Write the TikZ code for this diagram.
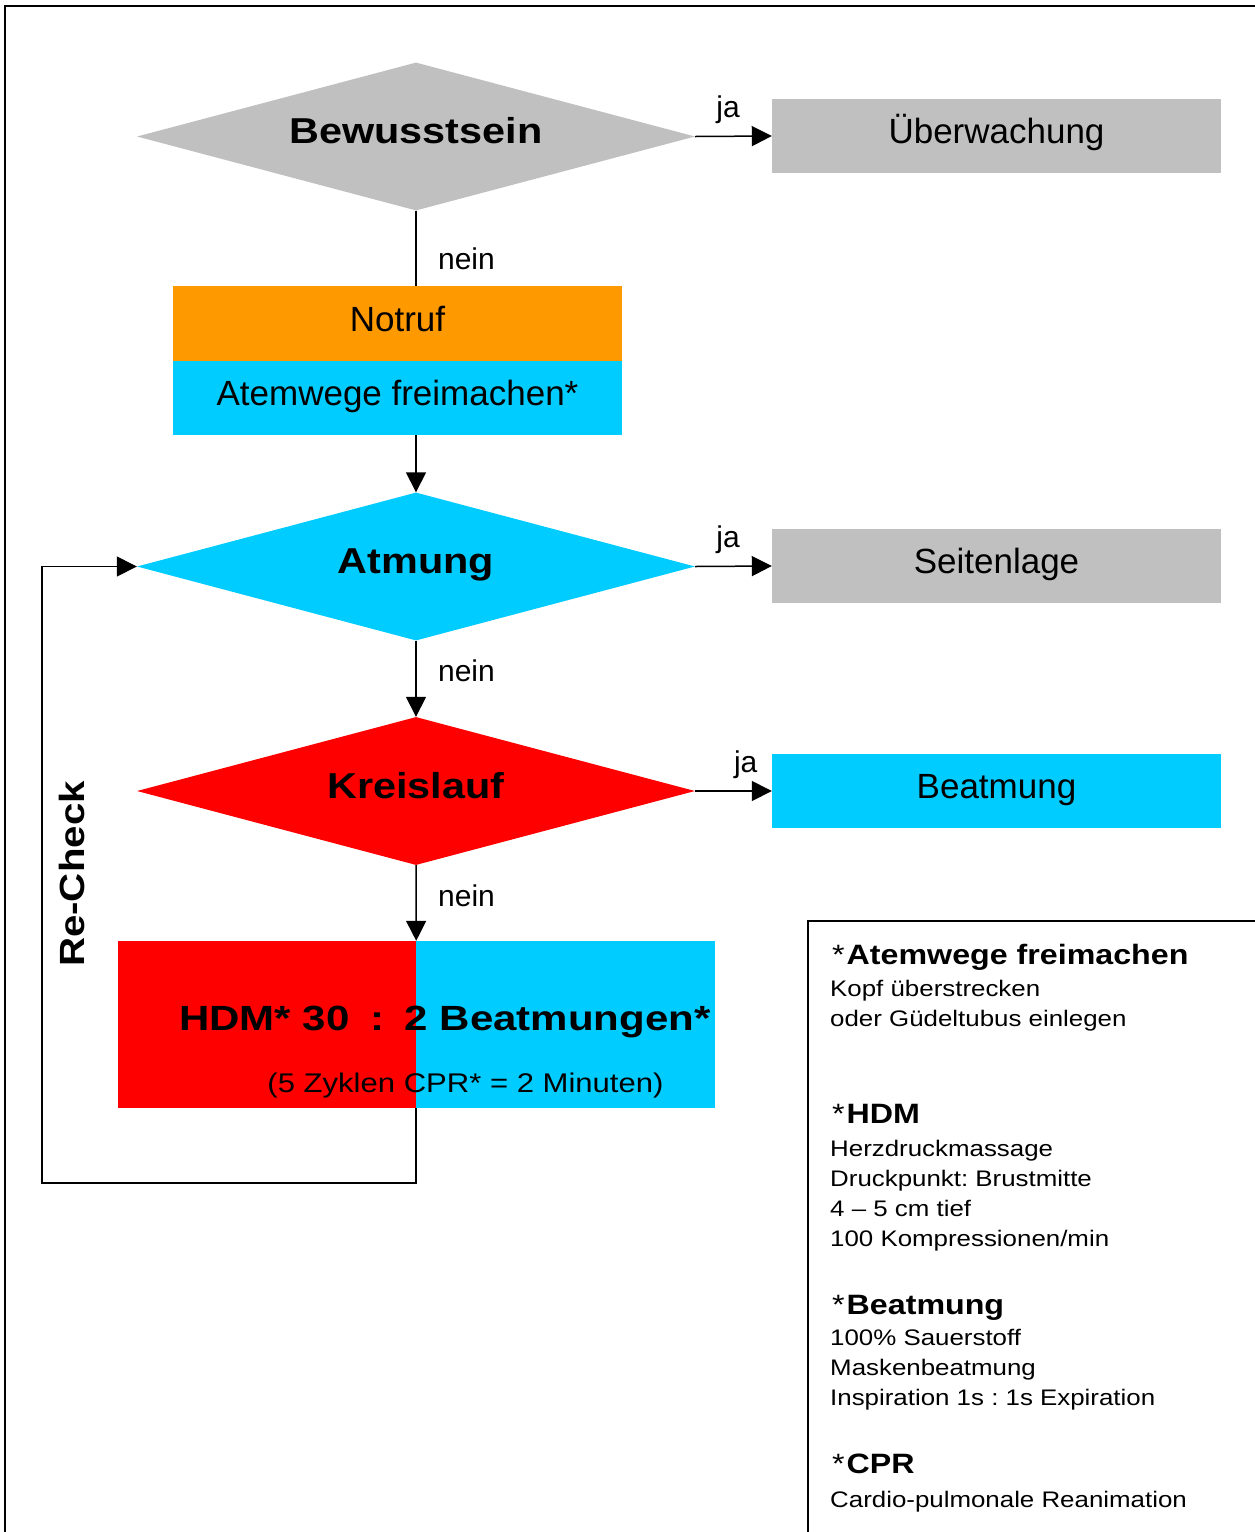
\documentclass[tikz,border=0pt]{standalone}
\usepackage{fontspec}
\setmainfont{Liberation Sans}
\newfontfamily\widefont[FakeStretch=1.15]{Liberation Sans}
\newfontfamily\widerfont[FakeStretch=1.2]{Liberation Sans}
\usetikzlibrary{shapes.geometric,arrows.meta,positioning}
\frenchspacing

\definecolor{boxgray}{HTML}{C0C0C0}
\definecolor{notrufor}{HTML}{FF9900}
\definecolor{atemcyan}{HTML}{00CCFF}
\definecolor{herzred}{HTML}{FF0000}

\begin{document}
\begin{tikzpicture}
[x=1pt,y=-1pt,
  decision/.style={shape=diamond,aspect=3.77,inner sep=0pt,minimum width=558pt,
    minimum height=148pt,text height=26pt,text depth=12pt,
    font=\fontsize{36}{42}\widefont\bfseries},%
  actionbox/.style={shape=rectangle,inner sep=0pt,minimum width=449pt,
    minimum height=74pt,text height=25pt,text depth=10pt,
    font=\fontsize{35}{42}\selectfont},%
  halfbox/.style={shape=rectangle,inner sep=0pt,minimum height=167pt},%
  flowline/.style={line width=1.5pt},%
  flowarrow/.style={flowline,-{Triangle[length=20pt,width=20pt]}},%
  answer/.style={font=\fontsize{30}{36}\selectfont},%
  legendhead/.style={anchor=base west,inner sep=0pt,
    font=\fontsize{28}{32}\widefont\bfseries},%
  legendline/.style={anchor=base west,inner sep=0pt,
    font=\fontsize{22.5}{28}\widefont}]
\useasboundingbox (0,0) rectangle (1255,1532);
%% frames
\draw[line width=2pt] (5,1532) -- (5,6) -- (1255,6);
\draw[line width=2pt] (1255,921) -- (808,921) -- (808,1532);
%% decisions and boxes
\node (bewusst) at (416,136.5) [decision,fill=boxgray] {Bewusstsein};
\node (ueberw) at (996.5,136) [actionbox,fill=boxgray] {Überwachung};
\node (notruf) at (397.5,323.5) [actionbox,fill=notrufor,minimum height=75pt] {Notruf};
\node (atemweg) at (397.5,398) [actionbox,fill=atemcyan] {Atemwege freimachen*};
\node (atmung) at (416,566.5) [decision,fill=atemcyan] {Atmung};
\node (seitenl) at (996.5,566) [actionbox,fill=boxgray] {Seitenlage};
\node (kreisl) at (416,791) [decision,fill=herzred] {Kreislauf};
\node (beatm) at (996.5,791) [actionbox,fill=atemcyan] {Beatmung};
\node (hdmleft) at (267,1024.5) [halfbox,fill=herzred,minimum width=298pt] {};
\node (hdmright) at (565.5,1024.5) [halfbox,fill=atemcyan,minimum width=299pt] {};
\node (hdmtext) at (445,1030) [anchor=base,inner sep=0pt,
  font=\fontsize{35}{40}\widerfont\bfseries]
  {HDM* 30\hspace{9pt} :\hspace{9pt} 2 Beatmungen*};
\node (cprtext) at (465.5,1092) [anchor=base,inner sep=0pt,
  font=\fontsize{27}{32}\widefont] {(5 Zyklen CPR* = 2 Minuten)};
\node (recheck) at (72,874) [rotate=90,inner sep=0pt,
  font=\fontsize{35}{40}\widefont\bfseries] {Re-Check};
%% connectors
\draw[flowarrow] (bewusst.east) -- node[answer,above=8pt,pos=0.43] {ja} (ueberw.west);
\draw[flowline] (bewusst.south) -- node[answer,right=18pt,pos=0.64] {nein}
  (bewusst.south |- notruf.north);
\draw[flowarrow] (atmung.north |- atemweg.south) -- (atmung.north);
\draw[flowarrow] (atmung.east) -- node[answer,above=8pt,pos=0.43] {ja} (seitenl.west);
\draw[flowarrow] (atmung.south) -- node[answer,right=18pt,pos=0.40] {nein} (kreisl.north);
\draw[flowarrow] (kreisl.east) -- node[answer,above=8pt,pos=0.66] {ja} (beatm.west);
\draw[flowarrow] (kreisl.south) -- node[answer,right=18pt,pos=0.40] {nein}
  (hdmleft.north east);
\coordinate (loopcorner) at (42,1183);
\draw[flowarrow] (hdmleft.south east) |- (loopcorner) |- (atmung.west);
%% legend
\foreach \headname/\y/\txt in {atemhead/964/Atemwege freimachen, hdmhead/1123/HDM,
  beathead/1314/Beatmung, cprhead/1473/CPR} {
  \node (\headname) at (832,\y) [legendhead] {{\mdseries*}\hspace{2pt}\txt};
}
\foreach \linename/\y/\txt in {a1/996/Kopf überstrecken, a2/1026/oder Güdeltubus einlegen,
  h1/1156/Herzdruckmassage, h2/1186/Druckpunkt: Brustmitte, h3/1216/4 – 5 cm tief,
  h4/1246/{100 Kompressionen/min}, b1/1345/100\% Sauerstoff, b2/1375/Maskenbeatmung,
  b3/1405/Inspiration 1s : 1s Expiration, c1/1507/Cardio-pulmonale Reanimation} {
  \node (leg\linename) at (830,\y) [legendline] {\txt};
}
\end{tikzpicture}
\end{document}
